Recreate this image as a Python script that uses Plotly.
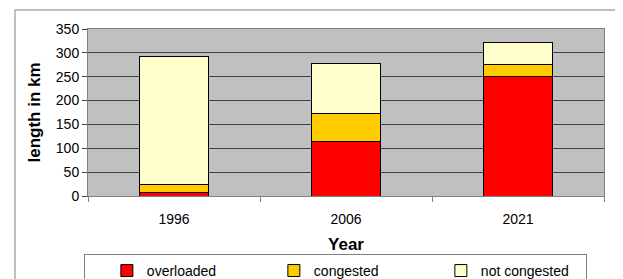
import plotly.graph_objects as go

years = ["1996", "2006", "2021"]
overloaded = [8, 114, 250]
congested = [16, 58, 25]
not_congested = [268, 105, 46]
y_ticks = [0, 50, 100, 150, 200, 250, 300, 350]

FONT = "Liberation Sans, Arial, sans-serif"

fig = go.Figure()
for name, vals, col in [("overloaded", overloaded, "#FF0000"),
                        ("congested", congested, "#FFCC00"),
                        ("not congested", not_congested, "#FFFFCC")]:
    fig.add_trace(go.Bar(x=years, y=vals, name=name, marker=dict(color=col, line=dict(color="black", width=1)),
                         width=0.4))

fig.update_layout(
    barmode="stack",
    width=615, height=271,
    margin=dict(l=80, r=19, t=21, b=83, autoexpand=False),
    paper_bgcolor="white",
    plot_bgcolor="#C0C0C0",
    font=dict(family=FONT, size=14, color="black"),
    showlegend=True,
    legend=dict(orientation="h", x=-0.008, xanchor="left", y=-0.347, yanchor="top",
                bgcolor="white", bordercolor="#808080", borderwidth=1,
                entrywidth=100, indentation=22, traceorder="normal",
                font=dict(size=14)),
    xaxis=dict(title=dict(text="<b>Year</b>", standoff=12), showline=True, linecolor="#808080",
               ticks="outside", tickcolor="#808080", ticklen=5, tickson="boundaries",
               ticklabelstandoff=10,
               showgrid=False, mirror=True),
    yaxis=dict(title=dict(text="<b>length in km</b>", standoff=10), range=[0, 350], tickvals=y_ticks,
               showline=True, linecolor="#808080", ticks="outside", tickcolor="#404040", ticklen=5,
               gridcolor="#404040", gridwidth=1, mirror=True, zeroline=False),
)
fig.add_shape(type="rect", xref="paper", yref="paper", x0=-0.1415, x1=1.06, y0=-0.65, y1=1.1138,
              line=dict(color="#808080", width=1), fillcolor="rgba(0,0,0,0)", layer="below")
fig.write_html("out.html")
